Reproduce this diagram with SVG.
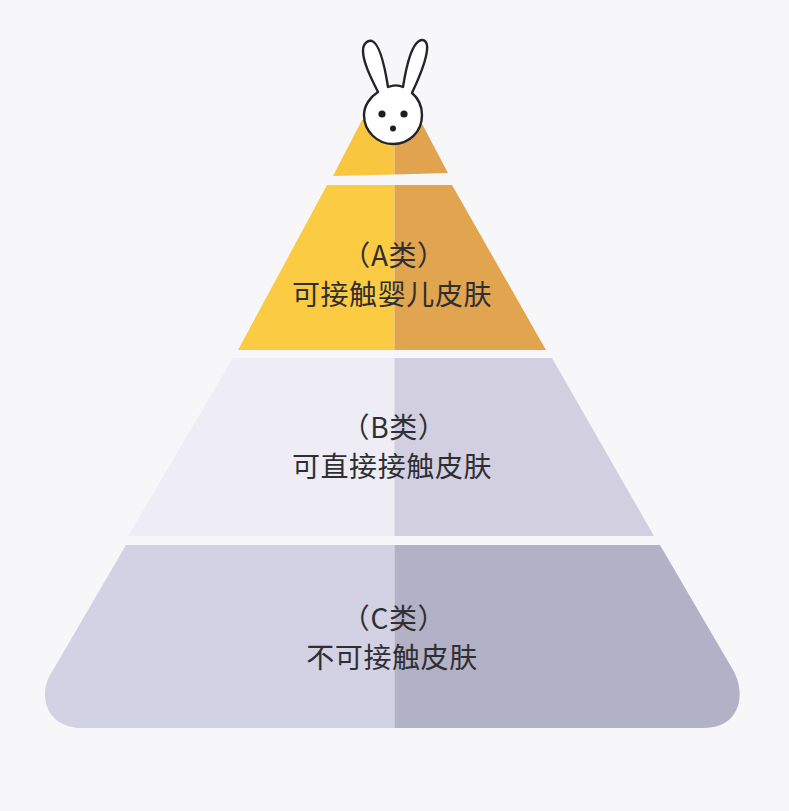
<svg xmlns="http://www.w3.org/2000/svg" width="789" height="811" viewBox="0 0 789 811">
<defs>
<style>
text{font-family:"Noto Sans CJK SC","Noto Sans",sans-serif;font-size:28px;fill:#2f2f33;text-anchor:middle;letter-spacing:.6px}
.o{fill:#fff;stroke:#242424;stroke-width:2.4;stroke-linejoin:round}
.d{fill:#1e1e1e}
</style>
<clipPath id="l"><rect x="0" y="0" width="394.5" height="811"/></clipPath>
<clipPath id="r"><rect x="394.5" y="0" width="394.5" height="811"/></clipPath>
<path id="t0" d="M333 176L362 120H420L448 173Z"/>
<path id="t1" d="M327 185L452 185L546 350H238Z"/>
<path id="t2" d="M233 358H552L654 536H128Z"/>
<path id="t3" d="M126 545H660L733 670C746 692 742 728 703 728H82C46 728 36 694 53 670Z"/>
</defs>
<rect width="789" height="811" fill="#f7f7f9"/>
<g id="tier-top">
<use href="#t0" fill="#f9c73f" clip-path="url(#l)"/>
<use href="#t0" fill="#e1a34d" clip-path="url(#r)"/>
</g>
<g id="tier-a">
<use href="#t1" fill="#fbcb44" clip-path="url(#l)"/>
<use href="#t1" fill="#e1a44f" clip-path="url(#r)"/>
<text x="394" y="266">（A类）</text>
<text x="392" y="305">可接触婴儿皮肤</text>
</g>
<g id="tier-b">
<use href="#t2" fill="#eeedf5" clip-path="url(#l)"/>
<use href="#t2" fill="#d2d0e0" clip-path="url(#r)"/>
<text x="394" y="438">（B类）</text>
<text x="392" y="477">可直接接触皮肤</text>
</g>
<g id="tier-c">
<use href="#t3" fill="#d3d2e5" clip-path="url(#l)"/>
<use href="#t3" fill="#b3b1c5" clip-path="url(#r)"/>
<text x="394" y="629">（C类）</text>
<text x="392" y="668">不可接触皮肤</text>
</g>
<g id="rabbit">
<path class="o" d="M378 92C371 78 363 62 363 51C363 43 368 40 372 41C380 44 385 68 388 87C393 85 399 85 403 87C406 68 411 46 419 41C424 38 428 42 427 50C426 63 418 80 412 93C419 99 422 107 422 115C422 132 409 144 393 144C377 144 364 131 364 115C364 106 370 97 378 92Z"/>
<circle class="d" cx="382" cy="114" r="3.6"/>
<circle class="d" cx="404" cy="114" r="3.6"/>
<circle class="d" cx="393" cy="128.5" r="3"/>
</g>
</svg>
